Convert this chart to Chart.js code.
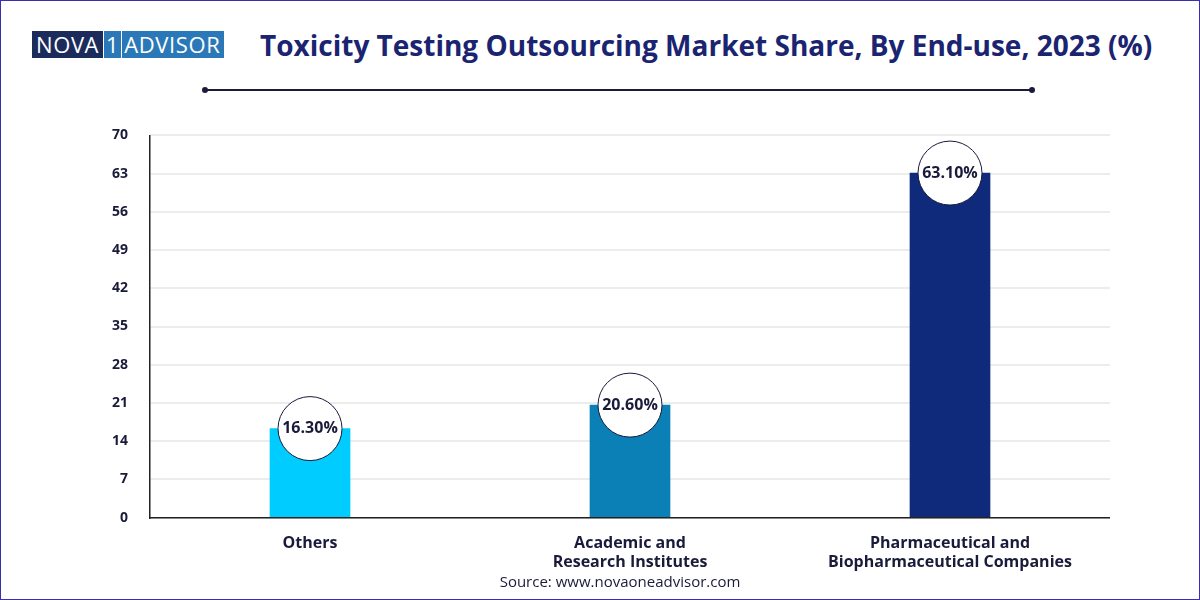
<!DOCTYPE html>
<html>
<head>
<meta charset="UTF-8">
<script src="https://cdn.jsdelivr.net/npm/chart.js"></script>
<style>
  body { margin: 0; width: 1200px; height: 600px; background: #fff; font-family: "Open Sans", sans-serif; overflow: hidden; }
  .frame { position: absolute; left: 0; top: 0; width: 1198px; height: 598px; border: 1px solid #3a2fb0; }
  .logo { position: absolute; left: 32px; top: 31px; height: 27px; display: flex; font-size: 22px; letter-spacing: 0.6px; color: #fff; }
  .logo .a { background: #1b2b5c; padding: 0 4px; line-height: 27px; }
  .logo .b { background: #2a78b8; padding: 0 4px 0 0; line-height: 27px; }
  .logo .one { border: 1px solid #fff; padding: 0 2px; line-height: 23px; margin: 1px 2px 0 0; }
  h1 { position: absolute; left: 260px; top: 26px; margin: 0; font-size: 28px; font-weight: 700; color: #1a2470; white-space: nowrap; }
  .rule { position: absolute; left: 205px; top: 89px; width: 827px; height: 2px; background: #1a1a3a; }
  .dot { position: absolute; top: 87px; width: 6px; height: 6px; border-radius: 3px; background: #1a1a3a; }
  .src { position: absolute; left: 0; width: 1240px; text-align: center; top: 571px; font-size: 15px; color: #1a1a3a; }
  .wrap { position: absolute; left: 90px; top: 105px; width: 1020px; height: 475px; }
</style>
</head>
<body>
<div class="frame"></div>
<div class="logo"><span class="a">NOVA</span><span class="b"><span class="one">1</span>ADVISOR</span></div>
<h1>Toxicity Testing Outsourcing Market Share, By End-use, 2023 (%)</h1>
<div class="rule"></div>
<div class="dot" style="left:202px"></div>
<div class="dot" style="left:1029px"></div>
<div class="wrap"><canvas id="chart"></canvas></div>
<div class="src">Source: www.novaoneadvisor.com</div>
<script>
const categories = [['Others'], ['Academic and', 'Research Institutes'], ['Pharmaceutical and', 'Biopharmaceutical Companies']];
const shares = [16.3, 20.6, 63.1];
const barColors = ['#00ccff', '#0a80b6', '#0f2a7a'];
const yTicks = [0, 7, 14, 21, 28, 35, 42, 49, 56, 63, 70];

const bubbles = {
  id: 'bubbles',
  afterDatasetsDraw(chart) {
    const ctx = chart.ctx;
    chart.getDatasetMeta(0).data.forEach((bar, i) => {
      ctx.save();
      ctx.beginPath();
      ctx.arc(bar.x, bar.y, 32, 0, Math.PI * 2);
      ctx.fillStyle = '#fff';
      ctx.fill();
      ctx.strokeStyle = '#1a1a3a';
      ctx.lineWidth = 1;
      ctx.stroke();
      ctx.fillStyle = '#1a1a3a';
      ctx.font = 'bold 16px "Open Sans"';
      ctx.textAlign = 'center';
      ctx.textBaseline = 'middle';
      ctx.fillText(shares[i].toFixed(2) + '%', bar.x, bar.y);
      ctx.restore();
    });
  }
};

new Chart(document.getElementById('chart'), {
  type: 'bar',
  data: {
    labels: categories,
    datasets: [{ data: shares, backgroundColor: barColors, barThickness: 80 }]
  },
  options: {
    responsive: true,
    maintainAspectRatio: false,
    animation: false,
    layout: { padding: { top: 22, right: 0 } },
    plugins: { legend: { display: false }, tooltip: { enabled: false } },
    scales: {
      x: {
        grid: { display: false },
        border: { color: '#222', width: 1.5 },
        ticks: { color: '#1a1a3a', font: { family: 'Open Sans', size: 16, weight: 'bold' }, padding: 8 }
      },
      y: {
        min: 0, max: 70,
        afterBuildTicks: axis => { axis.ticks = yTicks.map(v => ({ value: v })); },
        grid: { color: '#ececec', lineWidth: 2, drawTicks: false },
        border: { color: '#222', width: 1.5 },
        ticks: { color: '#1a1a3a', font: { family: 'Open Sans', size: 14, weight: 'bold' }, padding: 22 }
      }
    }
  },
  plugins: [bubbles]
});
</script>
</body>
</html>
